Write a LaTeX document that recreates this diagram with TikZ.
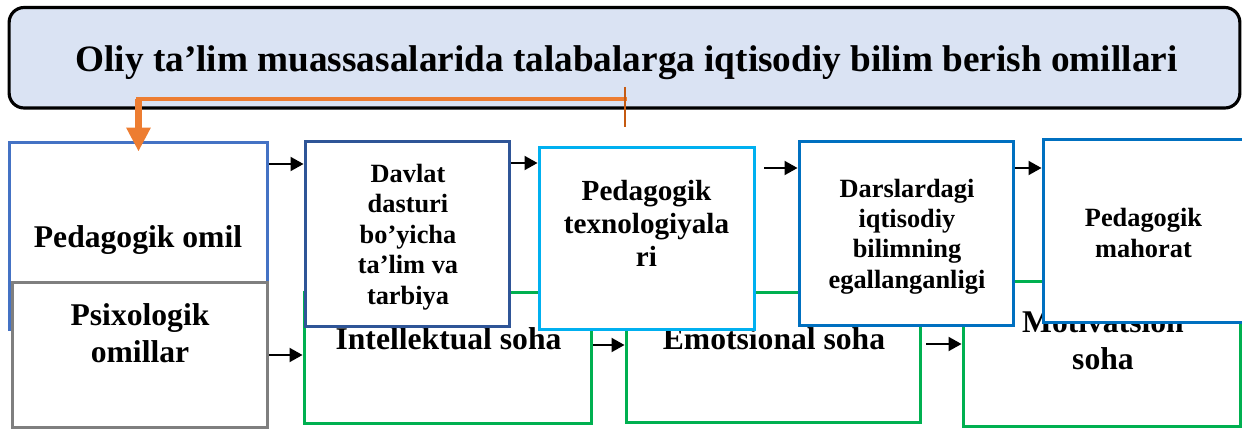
\documentclass[tikz,border=0pt]{standalone}
\usepackage{fontspec}
\setmainfont{Liberation Serif}
\usetikzlibrary{shapes,positioning,calc,arrows,arrows.meta}

\definecolor{titlefill}{HTML}{DAE3F3}
\definecolor{omilblue}{HTML}{4472C4}
\definecolor{darkblue}{HTML}{2F5597}
\definecolor{skyblue}{HTML}{00B0F0}
\definecolor{midblue}{HTML}{0070C0}
\definecolor{sohagreen}{HTML}{00B050}
\definecolor{psxgray}{HTML}{7F7F7F}
\definecolor{orgline}{HTML}{ED7D31}
\definecolor{orgtick}{HTML}{C55A11}

\tikzset{
    box/.style={draw, fill=white, line width=1.7pt, inner sep=0pt},
    sohabox/.style={draw=sohagreen, line width=1.7pt, inner sep=0pt},
    bigtxt/.style={inner sep=0pt, align=center, font=\bfseries\fontsize{18}{21}\selectfont},
    smalltxt/.style={inner sep=0pt, align=center, font=\bfseries\fontsize{15}{17.3}\selectfont},
    arr/.style={-{Triangle[length=2.6mm,width=2.8mm]}, line width=1.1pt},
}

\begin{document}
\begin{tikzpicture}[x=0.02cm, y=-0.02cm]
    \useasboundingbox (0,0) rectangle (1242,429);

    % title
    \node[draw=black, fill=titlefill, line width=1.8pt, rounded corners=0.3cm,
        inner sep=0pt, minimum width=24.62cm, minimum height=2.01cm]
        (title) at (624.5,57.75) {};
    \node[inner sep=0pt, font=\bfseries\fontsize{21.2}{25}\selectfont]
        (titletxt) at (626.5,62.5) {Oliy ta’lim muassasalarida talabalarga iqtisodiy bilim berish omillari};

    % soha boxes (lower row)
    \node[sohabox, minimum width=5.76cm, minimum height=2.64cm] (intel) at (448,358) {};
    \node[sohabox, minimum width=5.9cm, minimum height=2.62cm] (emo) at (773.5,357.5) {};
    \node[sohabox, minimum width=5.56cm, minimum height=2.92cm] (motiv) at (1102,354) {};
    \node[bigtxt] (inteltxt) at (448.5,339) {Intellektual soha};
    \node[bigtxt] (emotxt) at (774,339) {Emotsional soha};
    \node[bigtxt] (motivtxt) at (1103,340.5) {Motivatsion\\soha};

    % omillar
    \node[box, draw=omilblue, minimum width=5.18cm, minimum height=3.76cm] (omil) at (138.5,236) {};
    \node[bigtxt] (omiltxt) at (138,240.5) {Pedagogik omil};
    \node[box, draw=psxgray, minimum width=5.12cm, minimum height=2.92cm] (psx) at (140,355) {};
    \node[bigtxt] (psxtxt) at (140,333.5) {Psixologik\\omillar};

    % upper row
    \node[box, draw=darkblue, minimum width=4.1cm, minimum height=3.72cm] (davlat) at (407.5,234) {};
    \node[smalltxt] (davlattxt) at (408,237) {Davlat\\dasturi\\bo’yicha\\ta’lim va\\tarbiya};
    \node[box, draw=skyblue, minimum width=4.32cm, minimum height=3.66cm] (texno) at (647,238.5) {};
    \node[smalltxt, font=\bfseries\fontsize{16.6}{19}\selectfont] (texnotxt) at (646.5,223.5)
        {Pedagogik\\texnologiyala\\ri};
    \node[box, draw=midblue, minimum width=4.3cm, minimum height=3.7cm] (dars) at (906.5,233.5) {};
    \node[smalltxt] (darstxt) at (907,236.5) {Darslardagi\\iqtisodiy\\bilimning\\egallanganligi};
    \node[box, draw=midblue, minimum width=4.14cm, minimum height=3.68cm] (mahorat) at (1146.5,231) {};
    \node[smalltxt] (mahorattxt) at (1143.5,233) {Pedagogik\\mahorat};

    % arrows
    \draw[arr] (omil.east |- 0,164) -- (davlat.west |- 0,164);
    \draw[arr] (davlat.east |- 0,163) -- (texno.west |- 0,163);
    \draw[arr, shorten <=0.16cm] (texno.east |- 0,168) -- (dars.west |- 0,168);
    \draw[arr] (dars.east |- 0,168) -- (mahorat.west |- 0,168);
    \draw[arr] (psx.east |- 0,355) -- (intel.west |- 0,355);
    \draw[arr] (intel.east |- 0,345) -- (emo.west |- 0,345);
    \draw[arr, shorten <=0.08cm] (emo.east |- 0,344) -- (motiv.west |- 0,344);

    % orange connector
    \coordinate (orgA) at (625,99);
    \coordinate (orgB) at (omil.north |- orgA);
    \draw[orgline, line width=2.3pt, line cap=rect] (orgA) -- (orgB);
    \draw[orgline, line width=4pt, -{Triangle[length=0.48cm,width=0.46cm]}]
        (orgB) -- ([yshift=-0.22cm]omil.north);
    \draw[orgtick, line width=1.2pt] (orgA) ++(0,-12) -- ++(0,40);

\end{tikzpicture}
\end{document}
